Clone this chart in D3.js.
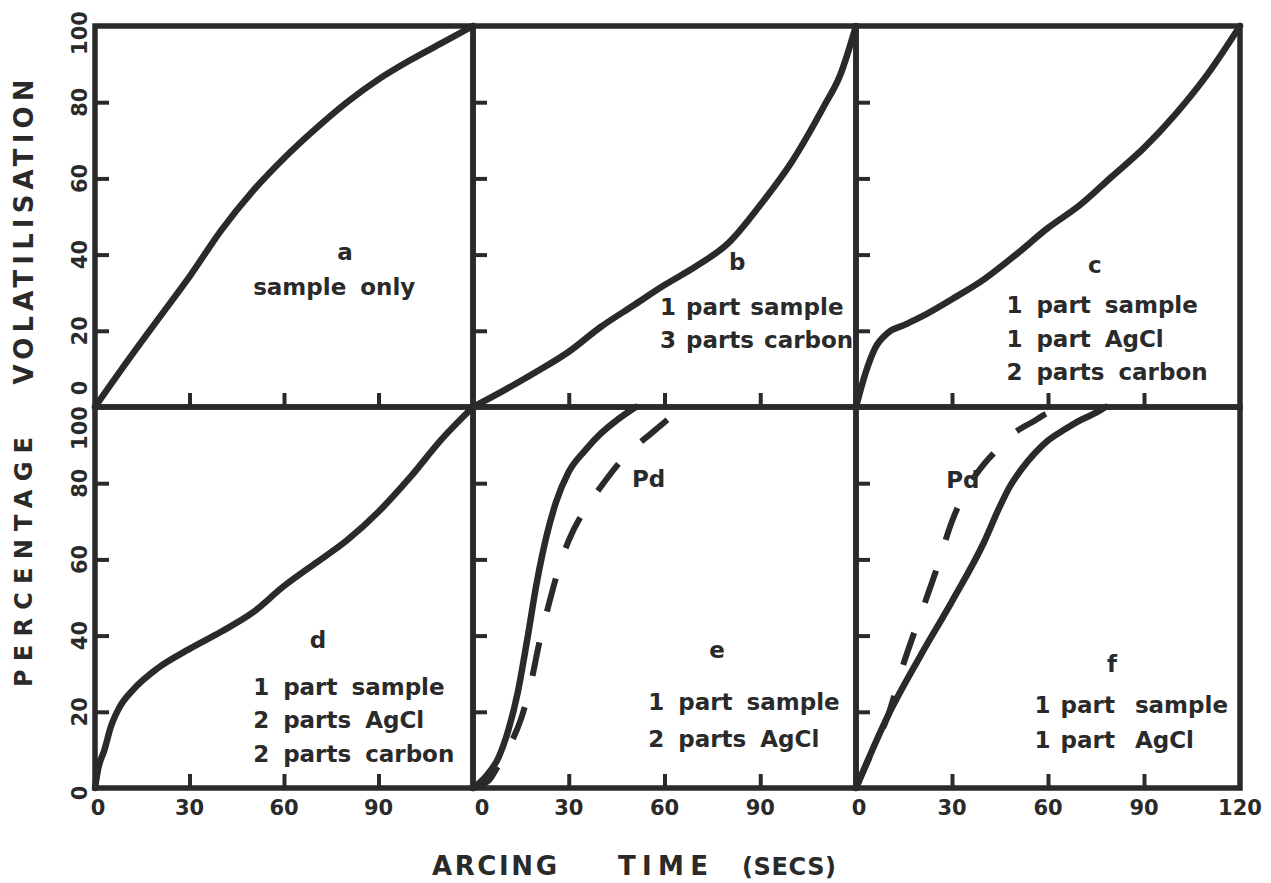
<!DOCTYPE html>
<html><head><meta charset="utf-8">
<script src="https://cdn.jsdelivr.net/npm/d3@7"></script>
<style>body{margin:0;background:#fff}svg{display:block}</style>
</head><body>
<svg id="chart" width="1271" height="883"></svg>
<script>
// ---------- data ----------
const xTickValues = [0, 30, 60, 90, 120];
const yTickValues = [0, 20, 40, 60, 80, 100];
const innerXTicks = [30, 60, 90];
const innerYTicks = [20, 40, 60, 80];

// a: sample only
const aTime = [0, 10, 20, 30, 40, 50, 60, 70, 80, 90, 100, 110, 120];
const aPct  = [0, 11.7, 23, 34.2, 46.3, 56.6, 65.3, 73, 80, 86, 91, 95.5, 100];
// b: 1 part sample, 3 parts carbon
const bTime = [0, 10, 20, 30, 40, 50, 60, 70, 80, 90, 100, 110, 115, 120];
const bPct  = [0, 4.5, 9.3, 14.5, 21, 26.5, 32, 37, 43, 53, 64.5, 79, 87, 100];
// c: 1 part sample, 1 part AgCl, 2 parts carbon
const cTime = [0, 3, 6, 10, 15, 20, 30, 40, 50, 60, 70, 80, 90, 100, 110, 120];
const cPct  = [0, 9, 15.5, 19.5, 21.5, 23.5, 28.3, 33.5, 40, 47, 53, 60.5, 68, 77, 87.5, 100];
// d: 1 part sample, 2 parts AgCl, 2 parts carbon
const dTime = [0, 1, 3, 5, 8, 12, 20, 30, 40, 50, 60, 70, 80, 90, 100, 110, 120];
const dPct  = [0, 5, 10, 16, 21.5, 25.7, 31.5, 36.5, 41, 46, 53, 59, 65, 72.5, 81.5, 91.5, 100];
// e: 1 part sample, 2 parts AgCl (solid) and Pd (dashed)
const eTime   = [0, 4, 8, 11, 14, 17, 20, 23, 26, 30, 35, 40, 45, 51];
const ePct    = [0, 3, 8, 15, 25, 39, 54, 66, 75, 83, 88.5, 93, 96.5, 100];
const ePdTime = [0, 5, 8, 12, 15, 18, 21, 24, 27, 30, 35, 40, 45, 50, 55, 60, 65];
const ePdPct  = [0, 2, 6, 12, 18, 27, 39, 49, 58, 65, 73, 79, 84.5, 89, 92.5, 96, 99.5];
// f: 1 part sample, 1 part AgCl (solid) and Pd (dashed)
const fTime   = [0, 10, 20, 30, 40, 45, 48, 52, 56, 60, 65, 70, 75, 78];
const fPct    = [0, 19, 34.5, 49, 64.5, 74, 79, 84, 88, 91.2, 94, 96.5, 98.5, 100];
const fPdTime = [0, 5, 10, 15, 20, 25, 30, 35, 40, 45, 50, 55, 60, 65];
const fPdPct  = [0, 9.5, 19, 33, 45, 57, 70, 79, 85, 89.5, 93.5, 96, 98.5, 100];

// annotations (in data units of their panel)
const aNotes = [{t:"a", x:79.4, y:38.7, anchor:"middle"}, {t:"sample only", x:50.2, y:29.3}];
const bNotes = [{t:"b", x:82.8, y:35.9, anchor:"middle"}, {t:"1 part sample", x:58.6, y:24.1, ws:2}, {t:"3 parts carbon", x:58.6, y:15.4, ws:2}];
const cNotes = [{t:"c", x:74.6, y:35.1, anchor:"middle"}, {t:"1 part sample", x:47, y:24.6}, {t:"1 part AgCl", x:47, y:15.7}, {t:"2 parts carbon", x:47, y:7.1}];
const dNotes = [{t:"d", x:70.8, y:36.7, anchor:"middle"}, {t:"1 part sample", x:50.2, y:24.4}, {t:"2 parts AgCl", x:50.2, y:15.7}, {t:"2 parts carbon", x:50.2, y:6.8}];
const eNotes = [{t:"e", x:76.5, y:34.1, anchor:"middle"}, {t:"1 part sample", x:54.9, y:20.5}, {t:"2 parts AgCl", x:54.9, y:10.8}, {t:"Pd", x:49.8, y:79}];
const fNotes = [{t:"f", x:80, y:30.4, anchor:"middle"}, {t:"1 part  sample", x:55.8, y:19.7, ws:2}, {t:"1 part  AgCl", x:55.8, y:10.5, ws:2}, {t:"Pd", x:28.2, y:78.7}];

// ---------- layout ----------
const cols = [[95, 473], [473, 856], [856, 1240]];
const rows = [[26, 407], [407, 788]];
const ink = "#2a2a2a";

const panels = [
  {col:0, row:0, series:[{x:aTime, y:aPct}], notes:aNotes},
  {col:1, row:0, series:[{x:bTime, y:bPct}], notes:bNotes},
  {col:2, row:0, series:[{x:cTime, y:cPct}], notes:cNotes},
  {col:0, row:1, series:[{x:dTime, y:dPct}], notes:dNotes},
  {col:1, row:1, series:[{x:eTime, y:ePct}, {x:ePdTime, y:ePdPct, dashed:true}], notes:eNotes},
  {col:2, row:1, series:[{x:fTime, y:fPct}, {x:fPdTime, y:fPdPct, dashed:true}], notes:fNotes},
];

const svg = d3.select("#chart");
svg.append("rect").attr("width", 1271).attr("height", 883).attr("fill", "#fff");

const numFont = "'DejaVu Sans', sans-serif";

panels.forEach(p => {
  const [x0, x1] = cols[p.col];
  const [y0, y1] = rows[p.row];
  const x = d3.scaleLinear().domain([0, 120]).range([x0, x1]);
  const y = d3.scaleLinear().domain([0, 100]).range([y1, y0]);
  const g = svg.append("g");

  // inward y ticks on left edge
  const ya = g.append("g").attr("transform", `translate(${x0},0)`)
    .call(d3.axisRight(y).tickValues(innerYTicks).tickSize(14).tickFormat(""));
  ya.select(".domain").remove();
  ya.selectAll("line").attr("stroke", ink).attr("stroke-width", 4);

  // upward x ticks on bottom edge
  const xa = g.append("g").attr("transform", `translate(0,${y1})`)
    .call(d3.axisTop(x).tickValues(innerXTicks).tickSize(14).tickFormat(""));
  xa.select(".domain").remove();
  xa.selectAll("line").attr("stroke", ink).attr("stroke-width", 4);

  // frame
  g.append("rect").attr("x", x0).attr("y", y0).attr("width", x1 - x0).attr("height", y1 - y0)
    .attr("fill", "none").attr("stroke", ink).attr("stroke-width", 5.5);

  // curves
  const line = d3.line().x(d => x(d[0])).y(d => y(d[1])).curve(d3.curveMonotoneX);
  p.series.forEach(s => {
    const pts = s.x.map((v, i) => [v, s.y[i]]);
    g.append("path").attr("d", line(pts)).attr("fill", "none").attr("stroke", ink)
      .attr("stroke-width", s.dashed ? 6 : 6.5).attr("stroke-linecap", s.dashed ? "butt" : "round")
      .attr("stroke-linejoin", "round")
      .attr("stroke-dasharray", s.dashed ? "34,32" : null);
  });

  // annotations
  p.notes.forEach(n => {
    g.append("text").attr("x", x(n.x)).attr("y", y(n.y))
      .attr("text-anchor", n.anchor || "start")
      .attr("font-family", numFont).attr("font-weight", "bold").attr("font-size", 23)
      .attr("word-spacing", n.ws !== undefined ? n.ws : 6).attr("fill", ink)
      .style("white-space", "pre")
      .text(n.t);
  });

  // y tick labels only on first column
  if (p.col === 0) {
    yTickValues.forEach(v => {
      let dy = 0;
      if (p.row === 0 && v === 0) dy = -19;
      if (p.row === 0 && v === 100) dy = 7;
      if (p.row === 1 && v === 100) dy = 21;
      if (p.row === 1 && v === 0) dy = 5;
      g.append("text").attr("transform", `translate(80,${y(v) + dy}) rotate(-90)`)
        .attr("text-anchor", "middle").attr("dominant-baseline", "central")
        .attr("font-family", numFont).attr("font-weight", "bold").attr("font-size", 21)
        .attr("fill", ink).text(String(v));
    });
  }
  // x tick labels only on bottom row
  if (p.row === 1) {
    xTickValues.forEach(v => {
      if (v === 120 && p.col !== 2) return;
      g.append("text").attr("x", x(v) + (v === 0 ? (p.col === 1 ? 9 : 3) : 0)).attr("y", 815)
        .attr("text-anchor", "middle")
        .attr("font-family", numFont).attr("font-weight", "bold").attr("font-size", 21)
        .attr("fill", ink).text(String(v));
    });
  }
});

// axis titles
const titleFont = "'DejaVu Sans', sans-serif";
svg.append("text").attr("transform", "translate(33,232) rotate(-90)")
  .attr("text-anchor", "middle").attr("font-family", titleFont).attr("font-weight", "bold")
  .attr("font-size", 26).attr("fill", ink)
  .attr("textLength", 305).attr("lengthAdjust", "spacing").text("VOLATILISATION");
svg.append("text").attr("transform", "translate(32,562) rotate(-90)")
  .attr("text-anchor", "middle").attr("font-family", titleFont).attr("font-weight", "bold")
  .attr("font-size", 24).attr("fill", ink)
  .attr("textLength", 250).attr("lengthAdjust", "spacing").text("PERCENTAGE");

const xTitle = [{t:"ARCING", x:432, w:125, fs:26}, {t:"TIME", x:618, w:90, fs:26}, {t:"(SECS)", x:742, w:94, fs:24}];
xTitle.forEach(d => {
  svg.append("text").attr("x", d.x).attr("y", 875)
    .attr("font-family", titleFont).attr("font-weight", "bold").attr("font-size", d.fs)
    .attr("fill", ink).attr("textLength", d.w).attr("lengthAdjust", "spacing").text(d.t);
});
</script>
</body></html>
